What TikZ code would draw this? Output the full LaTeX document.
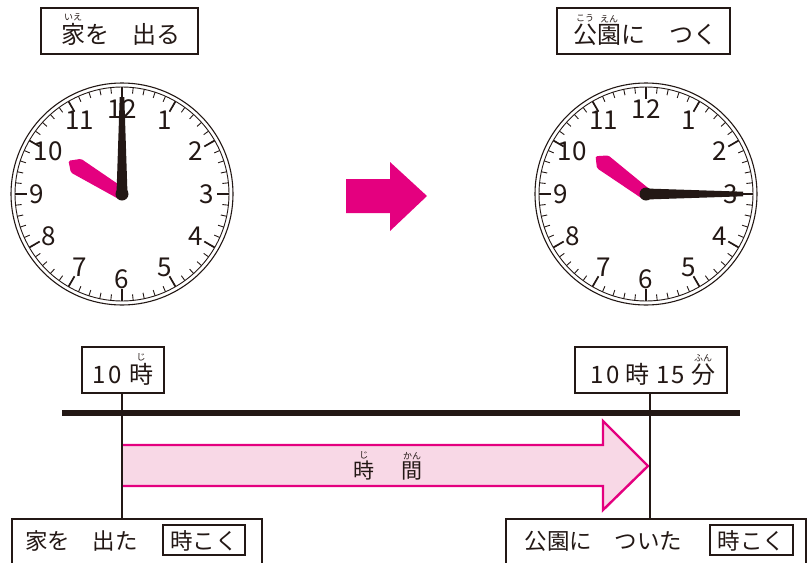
\documentclass[tikz,border=0pt]{standalone}
\usepackage{fontspec}
\setmainfont{Noto Sans CJK JP}
\definecolor{mag}{HTML}{E4007F}
\definecolor{lpink}{HTML}{F8D8E6}
\definecolor{ink}{HTML}{231815}
\newcommand\rb[3][9]{\leavevmode\vbox{\offinterlineskip\halign{\hfil##\hfil\cr{\fontsize{#1}{#1}\selectfont #3}\cr\noalign{\kern1.5pt}#2\cr}}}
\newcommand\clockface[4]{%
  \begin{scope}[shift={(#2)}]
    \draw[ink, line width=1.1] (0,0) circle (111);
    \draw[ink, line width=0.9] (0,0) circle (107);
    \foreach \m in {0,...,59} {\draw[ink, line width=0.9] (\m*6:107) -- (\m*6:101);}
    \foreach \h in {0,...,11} {\draw[ink, line width=1.7] (\h*30:107) -- (\h*30:95);}
    \foreach \n in {1,...,12} {\node[num] (#1n\n) at ({90-\n*30}:85) {\n};}
    \begin{scope}[rotate=#3]
      \fill[mag, rounded corners=1.5] (0,-6) -- (53,-10) -- (63,-2) -- (55,7) -- (0,6) -- cycle;
    \end{scope}
    \begin{scope}[rotate=#4]
      \fill[ink] (0,-5.5) -- (97,-2.3) -- (97,2.3) -- (0,5.5) -- cycle;
      \fill[ink] (0,0) circle (6.5);
    \end{scope}
  \end{scope}}
\begin{document}
\begin{tikzpicture}[x=1pt,y=1pt,
  frame/.style={draw=ink, line width=1.5, fill=white, inner sep=0},
  smallframe/.style={draw=ink, line width=1.3, inner sep=0},
  lbl/.style={anchor=base, inner sep=0, text=ink, font=\fontsize{24}{24}\selectfont},
  blbl/.style={anchor=base, inner sep=0, text=ink, font=\fontsize{22.5}{22.5}\selectfont},
  num/.style={text=ink, inner sep=0, font=\fontsize{26}{26}\selectfont},
  conn/.style={draw=ink, line width=1.8}]
\useasboundingbox (0,0) rectangle (807,-563);

% top labels
\node[frame, minimum width=157, minimum height=46] (tlbox) at (119.5,-31) {};
\node[lbl] (tltext) at (121,-43) {\rb{家}{いえ}を　出る};
\node[frame, minimum width=173, minimum height=46] (trbox) at (643.5,-31) {};
\node[lbl] (trtext) at (645,-43) {\rb{公}{こう}\rb{園}{えん}に　つく};

% clocks
\clockface{L}{122,-194}{150}{90}
\clockface{R}{646,-194}{145}{0}

% middle arrow
\fill[mag] (346,-179) -- (390,-179) -- (390,-162) -- (427,-196) -- (390,-231) -- (390,-213) -- (346,-213) -- cycle;

% time arrow
\draw[mag, fill=lpink, line width=2.4, line join=miter] (121,-445) -- (603,-445) -- (603,-421) -- (648,-466) -- (603,-510) -- (603,-486) -- (121,-486);
\fill[lpink] (121,-446.2) rectangle (123,-484.8);
\node[blbl, font=\fontsize{21}{21}\selectfont] (jikan) at (388,-478) {\rb{時}{じ}\hspace{1.3em}\rb{間}{かん}};

% timeline
\draw[ink, line width=6] (62,-413) -- (740,-413);

% time boxes
\node[frame, minimum width=82, minimum height=46] (b10) at (123,-370) {};
\node[lbl] (b10t) at (123,-383) {1\kern2pt0\kern2pt\ \rb{時}{じ}};
\node[frame, minimum width=152, minimum height=46] (b1015) at (651,-370) {};
\node[lbl] (b1015t) at (653,-383) {1\kern2pt0\kern1pt\ 時\kern1pt\ 1\kern2pt5\kern1pt\ \rb{分}{ふん}};

% bottom boxes
\node[frame, minimum width=250, minimum height=56] (bl) at (137,-547) {};
\node[blbl] (blt) at (81.5,-549) {家を　出た};
\node[smallframe, minimum width=82, minimum height=30] (blk) at (204,-540) {};
\node[blbl] (blkt) at (204,-549) {時こく};
\node[frame, minimum width=300, minimum height=56] (br) at (656,-547) {};
\node[blbl] (brt) at (603.5,-549) {公園に　ついた};
\node[smallframe, minimum width=83, minimum height=30] (brk) at (751.5,-540) {};
\node[blbl] (brkt) at (751.5,-549) {時こく};

% connectors
\draw[conn] (b10.south -| 122,0) -- (122,-519);
\draw[conn] (b1015.south -| 650,0) -- (650,-519);
\end{tikzpicture}
\end{document}
